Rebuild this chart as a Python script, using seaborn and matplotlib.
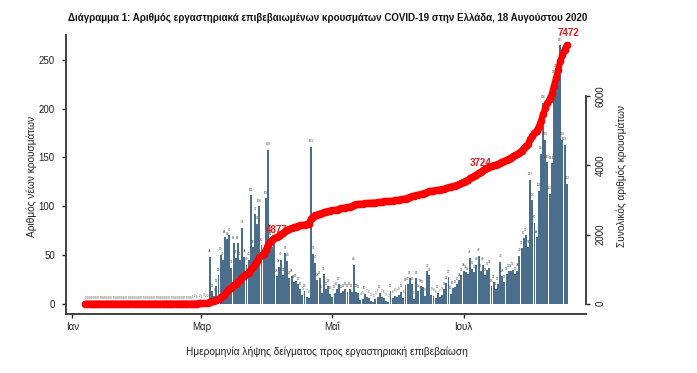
import numpy as np
import pandas as pd
import matplotlib
matplotlib.use("Agg")
import matplotlib.pyplot as plt
import seaborn as sns

# Νέα κρούσματα ανά ημερομηνία λήψης δείγματος (7 Ιαν - 18 Αυγ 2020)
cases_jan = [0] * 25
cases_feb = [0] * 25 + [1, 2, 1, 2]
cases_mar = [1, 3, 2, 2, 48, 13, 8, 18, 29, 50, 45, 68, 66, 70, 37, 62, 47, 62, 45, 78,
             48, 40, 45, 111, 58, 92, 82, 100, 60, 48, 108]
cases_apr = [158, 66, 58, 62, 28, 38, 45, 29, 52, 44, 26, 28, 22, 23, 20, 15, 9, 13, 7, 6,
             161, 51, 42, 24, 26, 11, 30, 15, 18, 10]
cases_may = [7, 11, 15, 20, 11, 13, 15, 12, 15, 12, 40, 12, 11, 4, 5, 10, 7, 6, 3, 2,
             5, 7, 11, 7, 6, 3, 2, 13, 6, 8, 7]
cases_jun = [9, 12, 6, 19, 20, 26, 20, 5, 26, 13, 18, 17, 8, 33, 29, 9, 8, 6, 11, 7,
             9, 15, 21, 27, 10, 16, 17, 20, 24, 29]
cases_jul = [34, 32, 30, 47, 36, 32, 40, 49, 33, 40, 29, 35, 37, 18, 22, 15, 20, 43, 28, 22,
             30, 33, 33, 35, 30, 34, 49, 57, 67, 70, 58]
cases_aug = [127, 106, 83, 68, 116, 154, 206, 168, 145, 113, 144, 232, 238, 230, 265, 168,
             163, 123]

first_date = "2020-01-07"
last_date = "2020-08-18"

month_ticks = ["2020-01-01", "2020-03-01", "2020-05-01", "2020-07-01"]
month_labels = ["Ιαν", "Μαρ", "Μαΐ", "Ιουλ"]

# ετικέτες σωρευτικής καμπύλης όπως στο πρωτότυπο
cum_labels = ["4877", "3724", "7472"]
cum_label_pos = [("2020-04-05", 2130), ("2020-07-09", 4070)]

title = "Διάγραμμα 1: Αριθμός εργαστηριακά επιβεβαιωμένων κρουσμάτων COVID-19 στην Ελλάδα, 18 Αυγούστου 2020"
xlab = "Ημερομηνία λήψης δείγματος προς εργαστηριακή επιβεβαίωση"
ylab_left = "Αριθμός νέων κρουσμάτων"
ylab_right = "Συνολικός αριθμός κρουσμάτων"


def load_data():
    jan1 = pd.Timestamp("2020-01-01")
    dates = pd.date_range(first_date, last_date, freq="D")
    cases = (cases_jan + cases_feb + cases_mar + cases_apr + cases_may
             + cases_jun + cases_jul + cases_aug)
    df = pd.DataFrame({"date": dates, "cases": cases})
    df["day"] = (df["date"] - jan1).dt.days
    df["cumulative"] = np.cumsum(df["cases"])
    return df


def to_day(s):
    return (pd.Timestamp(s) - pd.Timestamp("2020-01-01")).days


def main():
    df = load_data()

    sns.set_theme(style="ticks")
    plt.rcParams["font.family"] = ["Liberation Sans Narrow", "Liberation Sans", "DejaVu Sans"]

    fig = plt.figure(figsize=(6.97, 3.73), dpi=100)
    ax = fig.add_axes([66 / 697, 59 / 373, 520 / 697, 279 / 373])

    bar_color = "#4a6e8c"
    sns.barplot(data=df, x="day", y="cases", native_scale=True, color=bar_color,
                saturation=1, width=0.9, errorbar=None, linewidth=0, ax=ax)
    ax.bar_label(ax.containers[0], fontsize=2.2, padding=2.5, color="#444444")

    # R-style όρια (+4%)
    d0, d1 = df["day"].min(), df["day"].max()
    xr = (d1 - d0) * 0.04
    ax.set_xlim(d0 - xr, d1 + xr)
    ymax = df["cases"].max()
    ax.set_ylim(-0.04 * ymax, ymax * 1.04)

    ax.set_xticks([to_day(t) for t in month_ticks])
    ax.set_xticklabels(month_labels)
    ax.set_yticks([0, 50, 100, 150, 200, 250])
    ax.set_xlabel("")
    ax.set_ylabel("")
    ax.tick_params(axis="both", labelsize=7, length=3, width=1, color="#222222",
                   labelcolor="#222222")
    ax.tick_params(axis="y", pad=5)
    ax.tick_params(axis="x", pad=3)
    for s in ["top", "right"]:
        ax.spines[s].set_visible(False)
    for s in ["left", "bottom"]:
        ax.spines[s].set_linewidth(1.3)
        ax.spines[s].set_color("#333333")

    # σωρευτικά στον δεξιό άξονα
    ax2 = ax.twinx()
    cmax = df["cumulative"].max()
    ax2.set_ylim(-0.04 * cmax, cmax * 1.04)
    for txt, (d, v) in zip(cum_labels[:2], cum_label_pos):
        ax2.text(to_day(d), v, txt, color="#e41a1c", fontsize=7, fontweight="bold",
                 ha="center", va="center", zorder=1)
    sns.lineplot(data=df, x="day", y="cumulative", color="red", linewidth=4.5,
                 marker="o", markersize=5.5, markeredgewidth=0, ax=ax2, zorder=3)
    ax2.annotate(cum_labels[2], (df["day"].iloc[-1], cmax), xytext=(1, 5),
                 textcoords="offset points", color="#e41a1c", fontsize=7,
                 fontweight="bold", ha="center", va="bottom")

    ax2.set_yticks([0, 2000, 4000, 6000])
    ax2.set_ylabel("")
    ax2.tick_params(axis="y", labelsize=7, length=3, width=1, color="#222222",
                    labelcolor="#222222", pad=4, labelrotation=90)
    for lab in ax2.get_yticklabels():
        lab.set_va("center")
    for s in ["top", "left", "bottom"]:
        ax2.spines[s].set_visible(False)
    ax2.spines["right"].set_bounds(0, 6000)
    ax2.spines["right"].set_linewidth(1.3)
    ax2.spines["right"].set_color("#333333")

    fig.text(68 / 697, 1 - 18 / 373, title, fontsize=7.0, fontweight="bold",
             ha="left", va="center", color="#111111")
    fig.text(327 / 697, 1 - 352 / 373, xlab, fontsize=7.3, ha="center", va="center",
             color="#222222")
    fig.text(32 / 697, 1 - 176 / 373, ylab_left, fontsize=7.3, rotation=90,
             ha="center", va="center", color="#222222")
    fig.text(622 / 697, 1 - 176 / 373, ylab_right, fontsize=7.3, rotation=90,
             ha="center", va="center", color="#222222")

    fig.savefig("out.png", dpi=100, facecolor="white")


if __name__ == "__main__":
    main()
